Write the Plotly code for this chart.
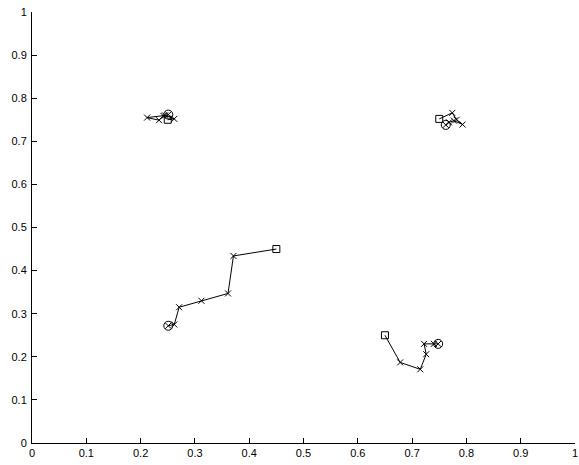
import plotly.graph_objects as go

# trajectory data (x, y)
traj1_x = [0.25, 0.262, 0.245, 0.212, 0.234, 0.242, 0.251]
traj1_y = [0.75, 0.752, 0.760, 0.755, 0.749, 0.759, 0.762]

traj2_x = [0.75, 0.774, 0.782, 0.793, 0.777, 0.768, 0.762]
traj2_y = [0.752, 0.766, 0.750, 0.739, 0.748, 0.744, 0.738]

traj3_x = [0.45, 0.371, 0.361, 0.312, 0.271, 0.262, 0.251]
traj3_y = [0.45, 0.434, 0.347, 0.330, 0.315, 0.275, 0.272]

traj4_x = [0.65, 0.678, 0.715, 0.726, 0.722, 0.740, 0.748]
traj4_y = [0.25, 0.187, 0.171, 0.206, 0.230, 0.230, 0.230]

trajectories = [(traj1_x, traj1_y), (traj2_x, traj2_y), (traj3_x, traj3_y), (traj4_x, traj4_y)]

tick_vals = [0, 0.1, 0.2, 0.3, 0.4, 0.5, 0.6, 0.7, 0.8, 0.9, 1]
tick_text = ["0", "0.1", "0.2", "0.3", "0.4", "0.5", "0.6", "0.7", "0.8", "0.9", "1"]

fig = go.Figure()
for tx, ty in trajectories:
    fig.add_trace(go.Scatter(
        x=tx[1:], y=ty[1:], mode="markers",
        marker=dict(symbol="x-thin-open", size=6, color="black", line=dict(width=1, color="black")),
        showlegend=False, hoverinfo="skip"))
    fig.add_trace(go.Scatter(
        x=tx, y=ty, mode="lines",
        line=dict(color="black", width=1),
        showlegend=False, hoverinfo="skip"))
    fig.add_trace(go.Scatter(
        x=[tx[0]], y=[ty[0]], mode="markers",
        marker=dict(symbol="square-open", size=7, color="black", line=dict(width=1, color="black")),
        showlegend=False, hoverinfo="skip"))
    fig.add_trace(go.Scatter(
        x=[tx[-1]], y=[ty[-1]], mode="markers",
        marker=dict(symbol="circle-open", size=9, color="black", line=dict(width=1, color="black")),
        showlegend=False, hoverinfo="skip"))

axis_common = dict(
    range=[0, 1], tickmode="array", tickvals=tick_vals, ticktext=tick_text,
    showline=True, linecolor="black", linewidth=1, ticks="inside", ticklen=5,
    tickcolor="black", showgrid=False, zeroline=False, mirror=False,
    ticklabeloverflow="allow", automargin=False,
    tickfont=dict(family="Liberation Sans, Arial, sans-serif", size=11, color="black"),
)

fig.update_layout(
    width=579, height=465,
    margin=dict(l=32, r=4, t=12, b=22, autoexpand=False),
    paper_bgcolor="white", plot_bgcolor="white",
    xaxis=dict(**axis_common, ticklabelstandoff=0),
    yaxis=dict(**axis_common, ticklabelstandoff=2),
)

fig.write_html("out.html")
